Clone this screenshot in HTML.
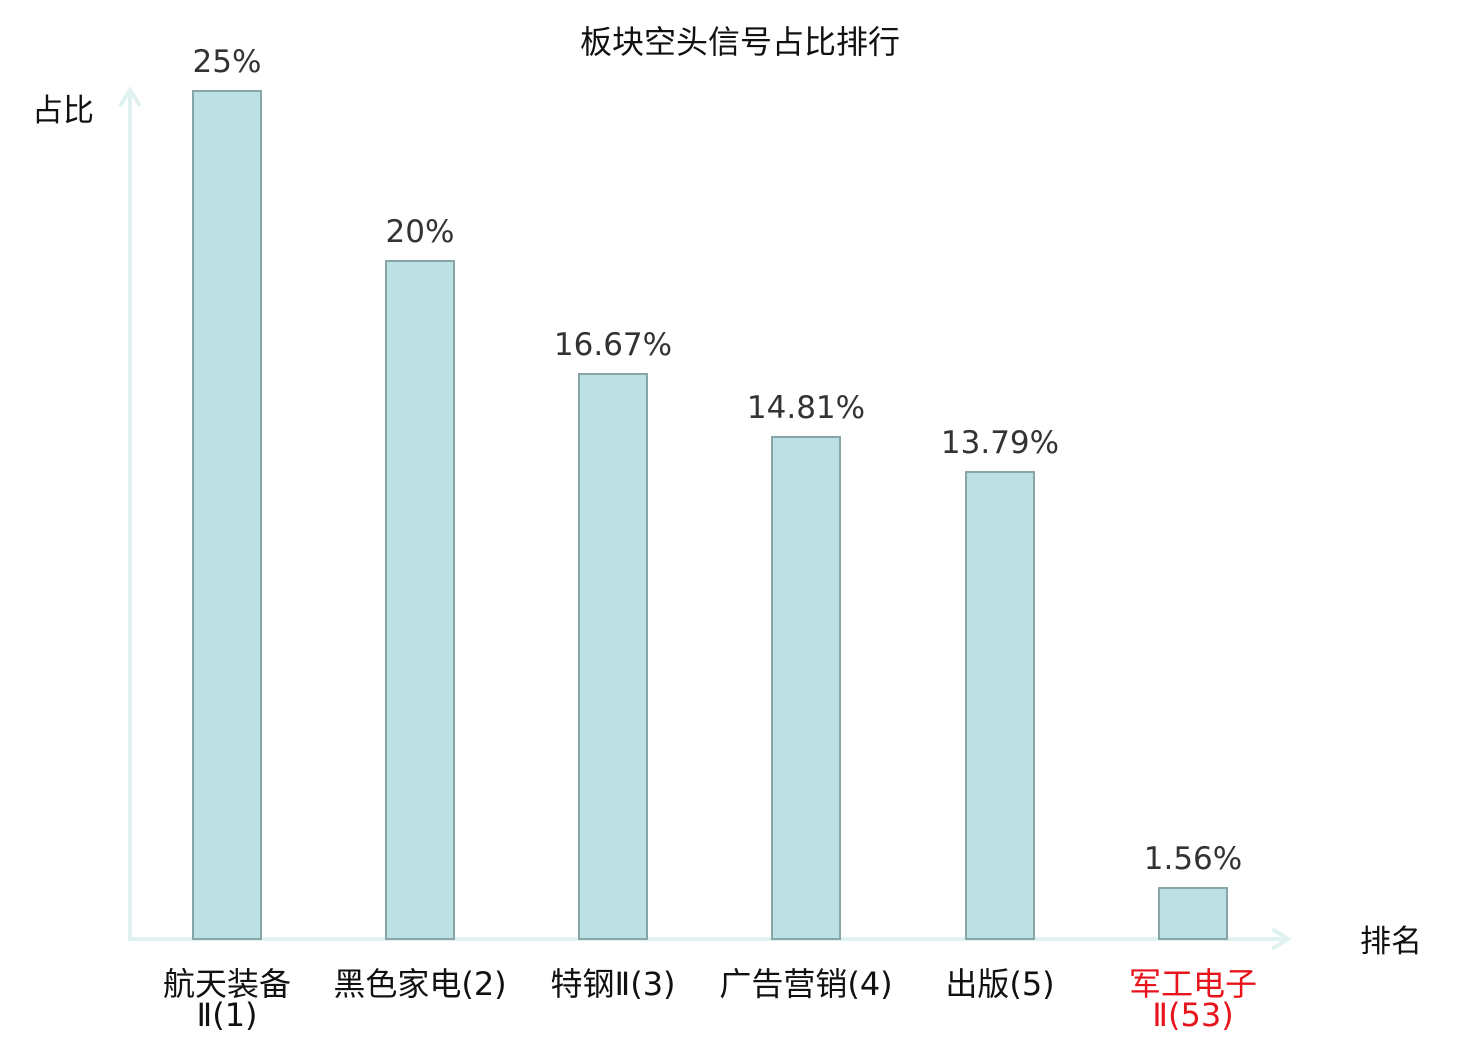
<!DOCTYPE html>
<html><head><meta charset="utf-8"><style>body{margin:0;background:#fff}svg{display:block}</style></head><body>
<svg width="1480" height="1040" xmlns="http://www.w3.org/2000/svg" font-family="DejaVu Sans, 'Noto Sans CJK SC', sans-serif">
<text x="740" y="53" font-size="32" text-anchor="middle" fill="#111">板块空头信号占比排行</text>
<text x="63" y="121" font-size="31" text-anchor="middle" fill="#111">占比</text>
<text x="1391" y="952" font-size="31" text-anchor="middle" fill="#111">排名</text>
<g stroke="#dff2ef" stroke-width="4" fill="none">
<line x1="130" y1="92" x2="130" y2="939"/>
<polyline points="120,106 130,90 140,106"/>
<line x1="128" y1="939" x2="1288" y2="939"/>
<polyline points="1272,929 1288,939 1272,949"/>
</g>
<g fill="#bce0e3" stroke="#86a6a8" stroke-width="2">
<rect x="193" y="91" width="68" height="848"/>
<rect x="386" y="261" width="68" height="678"/>
<rect x="579" y="374" width="68" height="565"/>
<rect x="772" y="437" width="68" height="502"/>
<rect x="966" y="472" width="68" height="467"/>
<rect x="1159" y="888" width="68" height="51"/>
</g>
<g font-size="31" text-anchor="middle" fill="#333">
<text x="227" y="72">25%</text>
<text x="420" y="242">20%</text>
<text x="613" y="355">16.67%</text>
<text x="806" y="418">14.81%</text>
<text x="1000" y="453">13.79%</text>
<text x="1193" y="869">1.56%</text>
</g>
<g font-size="32" text-anchor="middle" fill="#111">
<text x="227" y="995">航天装备</text>
<text x="227" y="1026">Ⅱ(1)</text>
<text x="420" y="995">黑色家电(2)</text>
<text x="613" y="995">特钢Ⅱ(3)</text>
<text x="806" y="995">广告营销(4)</text>
<text x="1000" y="995">出版(5)</text>
<text x="1193" y="995" fill="#e8141b">军工电子</text>
<text x="1193" y="1026" fill="#e8141b">Ⅱ(53)</text>
</g>
</svg>
</body></html>
